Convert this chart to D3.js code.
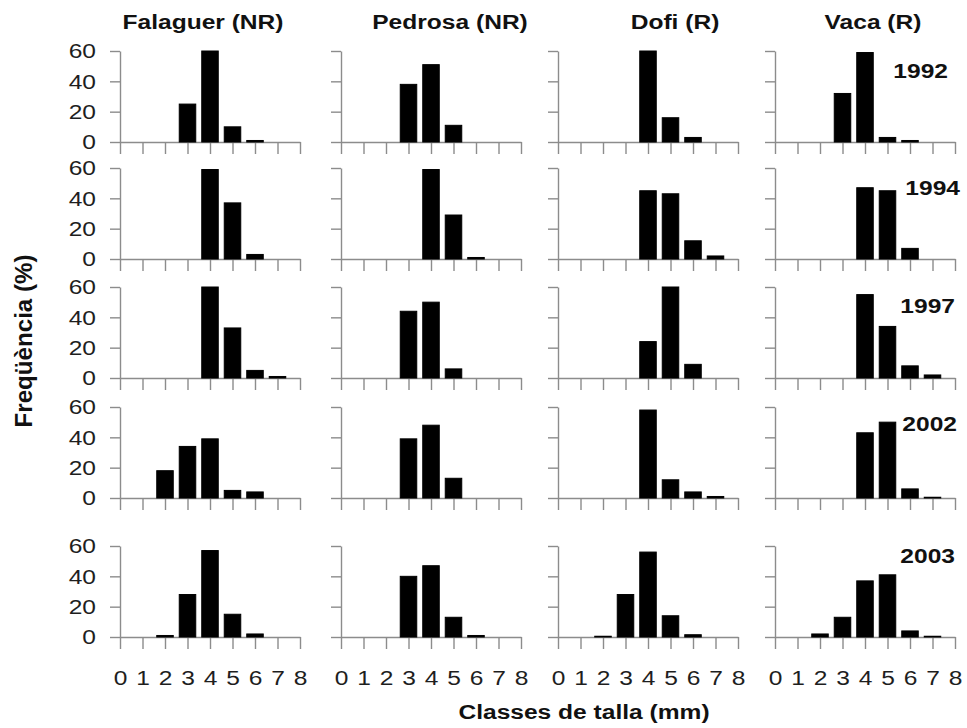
<!DOCTYPE html>
<meta charset="utf-8">
<head>
<script src="https://d3js.org/d3.v7.min.js"></script>
<style>
body { margin: 0; background: #fff; }
svg { font-family: "Liberation Sans", Arial, sans-serif; }
.axis path, .axis line { stroke: #8c8c8c; stroke-width: 1.4px; }
.axis text { font-size: 21px; fill: #1e1e1e; font-family: "Liberation Sans", Arial, sans-serif; }
.bold { font-weight: bold; font-size: 21px; fill: #111; }
</style>
</head>
<body>
<div id="chart"></div>
<script>
// size classes (mm) and tick values
var classes = [0, 1, 2, 3, 4, 5, 6, 7, 8];
var yTicks = [0, 20, 40, 60];
var sites = ["Falaguer (NR)", "Pedrosa (NR)", "Dofi (R)", "Vaca (R)"];
var years = ["1992", "1994", "1997", "2002", "2003"];

// frequency (%) per size class 0..8, one row per year
var falaguer = [
  [0, 0, 0, 25, 60, 10, 1, 0, 0],
  [0, 0, 0, 0, 59, 37, 3, 0, 0],
  [0, 0, 0, 0, 60, 33, 5, 1, 0],
  [0, 0, 18, 34, 39, 5, 4, 0, 0],
  [0, 0, 1, 28, 57, 15, 2, 0, 0]
];
var pedrosa = [
  [0, 0, 0, 38, 51, 11, 0, 0, 0],
  [0, 0, 0, 0, 59, 29, 1, 0, 0],
  [0, 0, 0, 44, 50, 6, 0, 0, 0],
  [0, 0, 0, 39, 48, 13, 0, 0, 0],
  [0, 0, 0, 40, 47, 13, 1, 0, 0]
];
var dofi = [
  [0, 0, 0, 0, 60, 16, 3, 0, 0],
  [0, 0, 0, 0, 45, 43, 12, 2, 0],
  [0, 0, 0, 0, 24, 60, 9, 0, 0],
  [0, 0, 0, 0, 58, 12, 4, 1, 0],
  [0, 0, 0.5, 28, 56, 14, 1.5, 0, 0]
];
var vaca = [
  [0, 0, 0, 32, 59, 3, 1, 0, 0],
  [0, 0, 0, 0, 47, 45, 7, 0, 0],
  [0, 0, 0, 0, 55, 34, 8, 2, 0],
  [0, 0, 0, 0, 43, 50, 6, 0.5, 0],
  [0, 0, 2, 13, 37, 41, 4, 0.5, 0]
];
var siteData = [falaguer, pedrosa, dofi, vaca];

// layout (the scanned figure is stretched horizontally, so text gets scaleX)
var W = 967, H = 728;
var sx = 1.17;
var colX = [120, 341, 558, 775];
var rowTop = [51, 168, 287, 407, 546];
var panelW = 180, panelH = 91;
var titleX = [203, 450, 675, 873];
var yearX = [948, 960, 955, 957, 955];
var yearY = [78, 195, 313, 431, 563];
var barW = 16.5;

var svg = d3.select("#chart").append("svg")
    .attr("width", W)
    .attr("height", H);

svg.append("rect").attr("width", W).attr("height", H).attr("fill", "#fff");

var x = d3.scaleLinear().domain([0, 8]).range([0, panelW]);
var y = d3.scaleLinear().domain([0, 60]).range([panelH, 0]);

siteData.forEach(function(rows, c) {
  rows.forEach(function(vals, r) {
    var g = svg.append("g")
        .attr("transform", "translate(" + colX[c] + "," + rowTop[r] + ")");

    // y axis, labels only on first column
    var yAxis = d3.axisLeft(y).tickValues(yTicks).tickSize(10).tickSizeOuter(0);
    if (c > 0) yAxis.tickFormat("");
    var ya = g.append("g").attr("class", "axis").call(yAxis);
    ya.selectAll("text")
        .attr("x", -24 / sx)
        .attr("transform", "scale(" + sx + ",1)");

    // x axis, labels only on bottom row
    var xAxis = d3.axisBottom(x).tickValues(classes).tickSize(12).tickSizeOuter(0).tickPadding(21);
    if (r < rows.length - 1) xAxis.tickFormat("");
    var xa = g.append("g").attr("class", "axis")
        .attr("transform", "translate(0," + panelH + ")")
        .call(xAxis);
    xa.selectAll("text").attr("transform", "scale(" + sx + ",1)");

    // bars
    g.selectAll("rect.bar")
      .data(vals.map(function(v, i) { return {k: classes[i], v: v}; }).filter(function(d) { return d.v > 0; }))
      .enter().append("rect")
        .attr("class", "bar")
        .attr("x", function(d) { return x(d.k) - barW / 2; })
        .attr("width", barW)
        .attr("y", function(d) { return y(d.v); })
        .attr("height", function(d) { return panelH - y(d.v); })
        .attr("fill", "#000")
        .attr("stroke", "#000")
        .attr("stroke-width", 1);
  });

  // site title
  svg.append("text")
      .attr("class", "bold")
      .attr("text-anchor", "middle")
      .attr("transform", "translate(" + titleX[c] + ",29) scale(" + sx + ",1)")
      .text(sites[c]);
});

// year labels on the right column
years.forEach(function(yr, r) {
  svg.append("text")
      .attr("class", "bold")
      .attr("text-anchor", "end")
      .attr("transform", "translate(" + yearX[r] + "," + yearY[r] + ") scale(" + sx + ",1)")
      .text(yr);
});

// axis titles
svg.append("text")
    .attr("class", "bold")
    .attr("text-anchor", "middle")
    .attr("transform", "translate(584,719) scale(" + sx + ",1)")
    .text("Classes de talla (mm)");

svg.append("text")
    .attr("class", "bold")
    .attr("text-anchor", "middle")
    .attr("textLength", 173)
    .attr("lengthAdjust", "spacingAndGlyphs")
    .attr("transform", "translate(32,341) scale(" + sx + ",1) rotate(-90)")
    .text("Freqüència (%)");
</script>
</body>
</html>
